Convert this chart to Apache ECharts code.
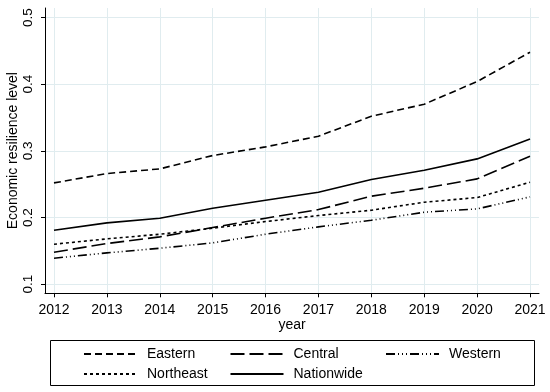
<!DOCTYPE html>
<html>
<head>
<meta charset="utf-8">
<script src="https://cdn.jsdelivr.net/npm/echarts@6/dist/echarts.min.js"></script>
<style>html,body{margin:0;padding:0;background:#fff;}#c{width:550px;height:392px;}</style>
</head>
<body>
<div id="c"></div>
<script>
var years = [2012, 2013, 2014, 2015, 2016, 2017, 2018, 2019, 2020, 2021];
var yTicks = [0.1, 0.2, 0.3, 0.4, 0.5];
var eastern    = [0.252, 0.266, 0.273, 0.293, 0.306, 0.322, 0.352, 0.370, 0.404, 0.448];
var central    = [0.148, 0.161, 0.171, 0.185, 0.199, 0.212, 0.232, 0.244, 0.258, 0.292];
var western    = [0.139, 0.147, 0.154, 0.162, 0.175, 0.186, 0.196, 0.208, 0.213, 0.231];
var northeast  = [0.160, 0.168, 0.175, 0.184, 0.194, 0.203, 0.211, 0.223, 0.230, 0.253];
var nationwide = [0.181, 0.192, 0.199, 0.214, 0.226, 0.238, 0.257, 0.271, 0.288, 0.318];

function pairs(vals) { return years.map(function (y, i) { return [y, vals[i]]; }); }
function mk(name, vals, dash) {
  return {
    name: name, type: 'line', data: pairs(vals), symbol: 'none', showSymbol: false,
    lineStyle: { color: '#000', width: 1.6, type: dash, cap: 'butt' },
    itemStyle: { color: '#000' }, silent: true, animation: false
  };
}
var font = 'Liberation Sans, Arial, sans-serif';
var legendBase = {
  orient: 'vertical', padding: 0, itemWidth: 53, itemHeight: 14, itemGap: 6, top: 347,
  itemStyle: { opacity: 0 },
  textStyle: { fontFamily: font, fontSize: 14, color: '#000', padding: [0, 0, 0, 5] },
  selectedMode: false
};
var chart = echarts.init(document.getElementById('c'), null, { renderer: 'canvas' });
chart.setOption({
  backgroundColor: '#fff',
  animation: false,
  grid: { left: 45, right: 11, top: 8, bottom: 98.7, containLabel: false, outerBoundsMode: 'none' },
  xAxis: {
    type: 'value', min: 2011.83, max: 2021.17,
    name: 'year', nameLocation: 'middle', nameGap: 25, nameMoveOverlap: false,
    nameTextStyle: { fontFamily: font, fontSize: 14, color: '#000' },
    axisLine: { show: true, lineStyle: { color: '#000', width: 1 } },
    axisTick: { show: true, length: 4, customValues: years, lineStyle: { color: '#000' } },
    axisLabel: { customValues: years, fontFamily: font, fontSize: 14, color: '#000', margin: 10,
      formatter: function (v) { return String(v); } },
    splitLine: { show: true, lineStyle: { color: '#e0ecef', width: 1 } }
  },
  yAxis: {
    type: 'value', min: 0.0864, max: 0.5143,
    name: 'Economic resilience level', nameLocation: 'middle', nameGap: 25, nameMoveOverlap: false,
    nameTextStyle: { fontFamily: font, fontSize: 14, color: '#000' },
    axisLine: { show: true, lineStyle: { color: '#000', width: 1 } },
    axisTick: { show: true, length: 4, customValues: yTicks, lineStyle: { color: '#000' } },
    axisLabel: { customValues: yTicks, rotate: 90, fontFamily: font, fontSize: 13.5, color: '#000', margin: 10,
      formatter: function (v) { return String(Math.round(v * 10) / 10); } },
    splitLine: { show: true, lineStyle: { color: '#e0ecef', width: 1 } }
  },
  legend: [
    Object.assign({}, legendBase, { left: 83, data: ['Eastern', 'Northeast'] }),
    Object.assign({}, legendBase, { left: 229.5, data: ['Central', 'Nationwide'] }),
    Object.assign({}, legendBase, { left: 385, data: ['Western'] })
  ],
  graphic: [{
    type: 'rect', shape: { x: 50.5, y: 340.5, width: 484, height: 45 },
    style: { fill: 'none', stroke: '#000', lineWidth: 1 }, silent: true
  }],
  series: [
    mk('Eastern', eastern, [7, 4]),
    mk('Central', central, [14, 5]),
    mk('Western', western, [9, 3, 1, 3, 1, 3, 1, 3]),
    mk('Northeast', northeast, [3, 3]),
    mk('Nationwide', nationwide, 'solid')
  ]
});
</script>
</body>
</html>
